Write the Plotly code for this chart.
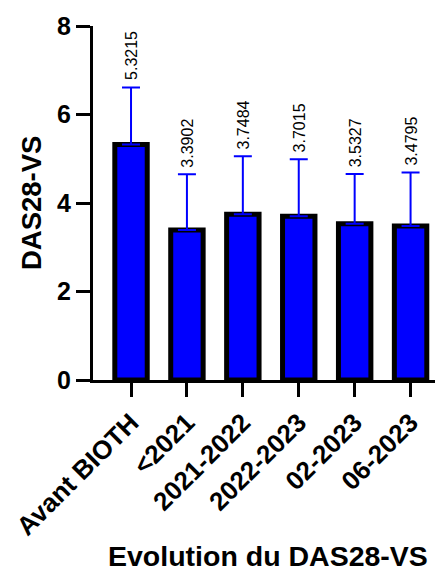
import plotly.graph_objects as go

categories = ["Avant BIOTH", "<2021", "2021-2022", "2022-2023", "02-2023", "06-2023"]
means = [5.3215, 3.3902, 3.7484, 3.7015, 3.5327, 3.4795]
sds = [1.29, 1.26, 1.31, 1.29, 1.12, 1.21]
value_labels = ["5.3215", "3.3902", "3.7484", "3.7015", "3.5327", "3.4795"]
y_ticks = [0, 2, 4, 6, 8]

FONT = "Liberation Sans, Arial, sans-serif"

fig = go.Figure()
fig.add_trace(go.Bar(
    x=list(range(len(categories))),
    y=means,
    width=0.58,
    marker=dict(color="#0000ff", line=dict(color="black", width=5)),
    error_y=dict(type="data", array=sds, arrayminus=[0]*len(sds), symmetric=False,
                 color="#0000ff", thickness=2, width=9),
    showlegend=False,
))

for i, (m, s, t) in enumerate(zip(means, sds, value_labels)):
    fig.add_annotation(x=i, y=m + s, text=t, showarrow=False, textangle=-90,
                       xanchor="center", yanchor="bottom", yshift=5, xshift=1,
                       font=dict(family=FONT, size=16, color="black"))

fig.add_annotation(x=-0.177, xref="paper", y=0.5, yref="paper", text="<b>DAS28-VS</b>",
                   showarrow=False, textangle=-90, xanchor="center", yanchor="middle",
                   font=dict(family=FONT, size=27.5, color="black"))
fig.add_annotation(x=0.5, xref="paper", y=-0.497, yref="paper", text="<b>Evolution du DAS28-VS</b>",
                   showarrow=False, xanchor="center", yanchor="middle",
                   font=dict(family=FONT, size=28.5, color="black"))

fig.update_layout(
    width=435, height=566,
    margin=dict(l=85, r=0, t=18, b=194),
    plot_bgcolor="white", paper_bgcolor="white",
)
fig.update_xaxes(
    range=[-0.68, 5.58], tickmode="array", tickvals=list(range(len(categories))),
    ticktext=categories, tickangle=-45, showline=True, linecolor="black", linewidth=3,
    ticks="outside", ticklen=14, tickwidth=3, tickcolor="black", showgrid=False, zeroline=False,
    tickfont=dict(family=FONT, size=26, color="black", weight="bold"),
)
fig.update_yaxes(
    range=[0, 8], tickvals=y_ticks, showline=True, linecolor="black", linewidth=3,
    ticks="outside", ticklen=14, tickwidth=3, tickcolor="black", showgrid=False, zeroline=False,
    tickfont=dict(family=FONT, size=25, color="black", weight="bold"),
)

fig.write_html("out.html")
